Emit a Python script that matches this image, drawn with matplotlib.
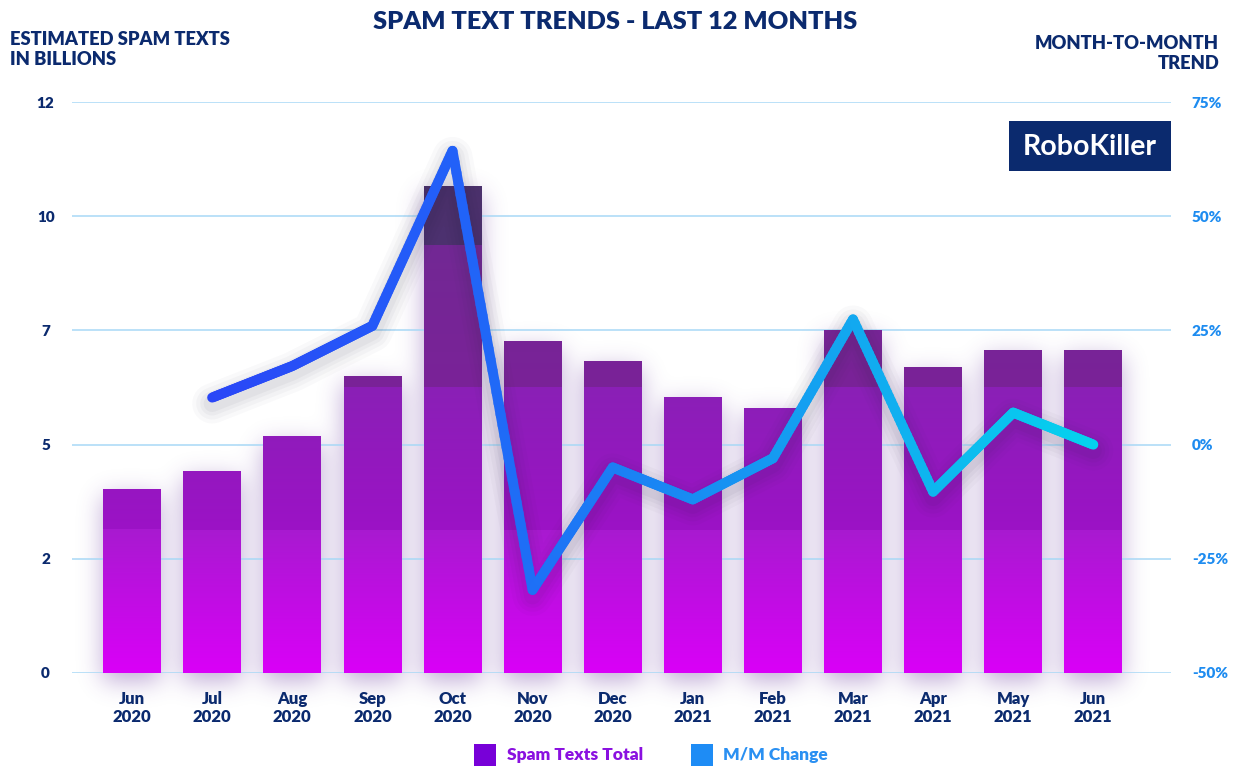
import numpy as np
import matplotlib
matplotlib.use("Agg")
import matplotlib.pyplot as plt
from matplotlib.patches import Rectangle
from matplotlib.collections import LineCollection
from matplotlib.colors import LinearSegmentedColormap, to_rgb
import matplotlib.transforms as mtransforms

# ---------------- data ----------------
months = ["Jun\n2020", "Jul\n2020", "Aug\n2020", "Sep\n2020", "Oct\n2020", "Nov\n2020",
          "Dec\n2020", "Jan\n2021", "Feb\n2021", "Mar\n2021", "Apr\n2021", "May\n2021",
          "Jun\n2021"]
spam_texts = [4.03, 4.43, 5.18, 6.51, 10.66, 7.26, 6.84, 6.05, 5.81, 7.50, 6.69, 7.08, 7.08]
mm_change = [np.nan, 10.3, 17.2, 26.0, 64.3, -31.8, -5.0, -12.0, -3.0, 27.4, -10.3, 7.0, 0.0]
left_ticks = [0, 2.5, 5, 7.5, 10, 12.5]
left_tick_labels = ["0", "2", "5", "7", "10", "12"]
right_ticks = [-50, -25, 0, 25, 50, 75]
right_tick_labels = ["-50%", "-25%", "0%", "25%", "50%", "75%"]

NAVY = "#0b2a6e"
FONT = "Lato"

W, H = 1237, 769
fig = plt.figure(figsize=(W / 100, H / 100), dpi=100)
fig.patch.set_facecolor("white")

ax = fig.add_axes([72 / W, 1 - 673 / H, (1171 - 72) / W, (673 - 102) / H], zorder=1)
ax.patch.set_alpha(0)
x = np.arange(len(months))
ax.set_xlim(-0.75, 12.97)
ax.set_ylim(0, 12.5)
bw = 0.72

# gridlines
for t in left_ticks:
    ax.axhline(t, color="#a8d8f6", lw=1.1, zorder=0)

# ---------------- soft glow behind bars ----------------
def blur(a, sigma):
    r = int(3 * sigma)
    k = np.exp(-np.arange(-r, r + 1) ** 2 / (2 * sigma ** 2))
    k /= k.sum()
    a = np.apply_along_axis(lambda v: np.convolve(v, k, mode="same"), 0, a)
    a = np.apply_along_axis(lambda v: np.convolve(v, k, mode="same"), 1, a)
    return a

mask = np.zeros((H, W))
off = 8
for xi, v in zip(x, spam_texts):
    (px0, py0) = ax.transData.transform((xi - bw / 2, 0))
    (px1, py1) = ax.transData.transform((xi + bw / 2, v))
    r0 = int(H - py1) + off
    r1 = int(H - py0) + off
    mask[max(r0, 0):min(r1, H), int(px0):int(px1)] = 1.0
glow = blur(mask, 12)
rgba = np.zeros((H, W, 4))
rgba[..., 0] = 105 / 255
rgba[..., 1] = 55 / 255
rgba[..., 2] = 160 / 255
rgba[..., 3] = np.clip(glow * 0.42, 0, 1)
bg = fig.add_axes([0, 0, 1, 1], zorder=0)
bg.imshow(rgba, extent=(0, W, 0, H), origin="upper", interpolation="bilinear")
bg.set_xlim(0, W)
bg.set_ylim(0, H)
bg.axis("off")

# ---------------- gradient bars ----------------
band_cols = [("#da00f8", "#a81ad0"),
             ("#9c12c6", "#8a20b6"),
             ("#7a2298", "#722894"),
             ("#4d3270", "#4a3068")]
N = 1250
ys = np.linspace(0, 12.5, N)
grad = np.zeros((N, 1, 3))
for i, yv in enumerate(ys):
    b = min(int(yv / 3.125), 3)
    t = (yv - b * 3.125) / 3.125
    c0 = np.array(to_rgb(band_cols[b][0]))
    c1 = np.array(to_rgb(band_cols[b][1]))
    grad[i, 0] = c0 + (c1 - c0) * t

for xi, v in zip(x, spam_texts):
    rect = Rectangle((xi - bw / 2, 0), bw, v, facecolor="none", edgecolor="none")
    ax.add_patch(rect)
    im = ax.imshow(grad, extent=(xi - bw / 2, xi + bw / 2, 0, 12.5), origin="lower",
                   aspect="auto", interpolation="nearest", zorder=2)
    im.set_clip_path(rect)
ax.set_xlim(-0.75, 12.97)
ax.set_ylim(0, 12.5)

# ---------------- axes styling ----------------
for s in ax.spines.values():
    s.set_visible(False)
ax.set_yticks(left_ticks)
ax.set_yticklabels(left_tick_labels)
ax.tick_params(axis="y", length=0, pad=19, labelsize=11, labelcolor=NAVY)
for lab in ax.get_yticklabels():
    lab.set_horizontalalignment("center")
    lab.set_fontfamily(FONT)
    lab.set_fontweight("heavy")
ax.set_xticks(x)
ax.set_xticklabels(months, linespacing=1.15)
ax.tick_params(axis="x", length=0, pad=13, labelsize=12, labelcolor=NAVY)
for lab in ax.get_xticklabels():
    lab.set_fontfamily(FONT)
    lab.set_fontweight("heavy")

ax2 = ax.twinx()
ax2.set_zorder(2)
ax2.patch.set_alpha(0)
ax2.set_ylim(-50, 75)
ax2.set_xlim(-0.75, 12.97)
for s in ax2.spines.values():
    s.set_visible(False)
ax2.set_yticks(right_ticks)
ax2.set_yticklabels(right_tick_labels)
ax2.tick_params(axis="y", length=0, pad=15, labelsize=11, labelcolor="#1e8cf0")
for lab in ax2.get_yticklabels():
    lab.set_fontfamily(FONT)
    lab.set_fontweight("heavy")

# ---------------- line with shadow + gradient ----------------
mx = np.array([xi for xi, m in zip(x, mm_change) if not np.isnan(m)], dtype=float)
my = np.array([m for m in mm_change if not np.isnan(m)], dtype=float)

shadow_tr = mtransforms.offset_copy(ax2.transData, fig=fig, x=0, y=-6, units="dots")
for lw, a in [(40, 0.025), (32, 0.03), (24, 0.035), (17, 0.045)]:
    ax2.plot(mx, my, color="#2a2a40", lw=lw * 0.72, alpha=a, solid_joinstyle="round",
             solid_capstyle="round", transform=shadow_tr, zorder=3)

cmap = LinearSegmentedColormap.from_list(
    "ln", [(0.0, "#2a46f7"), (0.27, "#2260f8"), (0.36, "#1e6ff6"),
           (0.73, "#12a8f0"), (1.0, "#05d2ee")])
segs, cols = [], []
for i in range(len(mx) - 1):
    ts = np.linspace(0, 1, 41)
    sx = mx[i] + (mx[i + 1] - mx[i]) * ts
    sy = my[i] + (my[i + 1] - my[i]) * ts
    for j in range(len(ts) - 1):
        segs.append([(sx[j], sy[j]), (sx[j + 1], sy[j + 1])])
        cols.append(cmap((0.5 * (sx[j] + sx[j + 1]) - mx[0]) / (mx[-1] - mx[0])))
lc = LineCollection(segs, colors=cols, linewidths=7.2, capstyle="round",
                    joinstyle="round", zorder=4)
ax2.add_collection(lc)

# ---------------- texts ----------------
fig.text(615 / W, 1 - 22 / H, "SPAM TEXT TRENDS - LAST 12 MONTHS", ha="center", va="center",
         fontsize=18.3, fontweight="heavy", color=NAVY, family=FONT)
fig.text(10 / W, 1 - 31 / H, "ESTIMATED SPAM TEXTS\nIN BILLIONS", ha="left", va="top",
         fontsize=13.2, fontweight="heavy", color=NAVY, family=FONT, linespacing=1.22)
fig.text(1219 / W, 1 - 35 / H, "MONTH-TO-MONTH\nTREND", ha="right", va="top",
         fontsize=13.2, fontweight="heavy", color=NAVY, family=FONT, linespacing=1.22)

# logo
fig.patches.append(Rectangle((1009 / W, 1 - 171 / H), 162 / W, 50 / H,
                             transform=fig.transFigure, facecolor=NAVY, edgecolor="none",
                             zorder=5))
fig.text(1090 / W, 1 - 147 / H, "RoboKiller", ha="center", va="center", fontsize=20.5,
         fontweight="bold", color="white", family=FONT, zorder=6)

# legend
fig.patches.append(Rectangle((474 / W, 1 - 766 / H), 22 / W, 22 / H,
                             transform=fig.transFigure, facecolor="#7800d8",
                             edgecolor="none"))
fig.text(507 / W, 1 - 755 / H, "Spam Texts Total", ha="left", va="center", fontsize=12.5,
         fontweight="heavy", color="#8a10e0", family=FONT)
fig.patches.append(Rectangle((691 / W, 1 - 766 / H), 22 / W, 22 / H,
                             transform=fig.transFigure, facecolor="#1e8cf5",
                             edgecolor="none"))
fig.text(723 / W, 1 - 755 / H, "M/M Change", ha="left", va="center", fontsize=12.5,
         fontweight="heavy", color="#2a90f2", family=FONT)

fig.savefig("out.png", dpi=100)
